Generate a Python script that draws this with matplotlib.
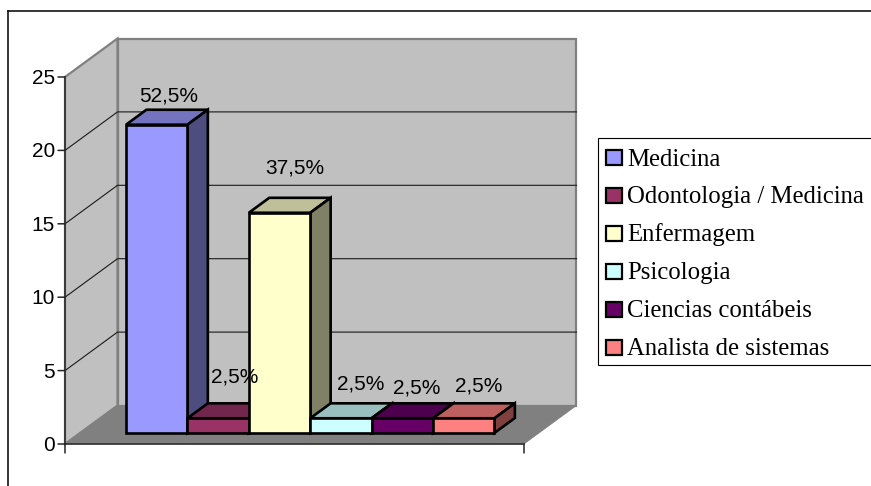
import matplotlib
matplotlib.use('Agg')
import matplotlib.pyplot as plt
from matplotlib.patches import Polygon, Rectangle

W, H = 871, 486

categories = ["Medicina", "Odontologia / Medicina", "Enfermagem", "Psicologia",
              "Ciencias contábeis", "Analista de sistemas"]
values = [21, 1, 15, 1, 1, 1]
percent_labels = ["52,5%", "2,5%", "37,5%", "2,5%", "2,5%", "2,5%"]
y_ticks = [0, 5, 10, 15, 20, 25]

front_colors = ["#9999FF", "#993366", "#FFFFCC", "#CCFFFF", "#660066", "#FF8080"]
top_colors = ["#7373BF", "#73264D", "#BFBF99", "#99BFBF", "#4D004D", "#BF6060"]
side_colors = ["#4D4D80", "#4D1A33", "#808066", "#668080", "#330033", "#804040"]

# label offset from the top-centre of each bar's front face, in pixels
label_offsets = [(12, 29), (17, 41), (15, 45), (20, 34), (14, 30), (15, 32)]

# geometry of the fake 3D box, in pixels
PLOT_L, PLOT_R, PLOT_B, PLOT_T = 65, 524, 444, 77
DEPTH_X, DEPTH_Y = 52.5, 38.5
BAR_W = 61.4
BAR0_X0 = 111.0
D_FRONT, D_BACK = 0.287, 0.675

fig = plt.figure(figsize=(W / 100, H / 100), dpi=100, facecolor="white")
ax = fig.add_axes([PLOT_L / W, 1 - PLOT_B / H, (PLOT_R - PLOT_L) / W, (PLOT_B - PLOT_T) / H])
ax.set_xlim((PLOT_L - BAR0_X0) / BAR_W, (PLOT_R - BAR0_X0) / BAR_W)
ax.set_ylim(0, y_ticks[-1])
ax.axis("off")

px_x = BAR_W
px_y = (PLOT_B - PLOT_T) / y_ticks[-1]
xmin, xmax = ax.get_xlim()


def proj(x, y, d):
    # x, y on the front plane, d = depth 0..1 into the box
    return (x + d * DEPTH_X / px_x, y + d * DEPTH_Y / px_y)


def poly(pts, face, edge, lw, z):
    ax.add_patch(Polygon(pts, closed=True, facecolor=face, edgecolor=edge, linewidth=lw,
                         joinstyle="miter", clip_on=False, zorder=z))


top = y_ticks[-1]
# walls and floor
poly([proj(xmin, 0, 0), proj(xmin, 0, 1), proj(xmax, 0, 1), proj(xmax, 0, 0)], "#808080", "#808080", 0.5, 1)
poly([proj(xmin, 0, 1), proj(xmin, top, 1), proj(xmax, top, 1), proj(xmax, 0, 1)], "#C0C0C0", "#808080", 1.6, 1)
poly([proj(xmin, 0, 0), proj(xmin, top, 0), proj(xmin, top, 1), proj(xmin, 0, 1)], "#C0C0C0", "#808080", 1.6, 1)

# gridlines
for t in y_ticks[1:-1]:
    a, b, c = proj(xmin, t, 0), proj(xmin, t, 1), proj(xmax, t, 1)
    ax.plot([a[0], b[0], c[0]], [a[1], b[1], c[1]], color="#1a1a1a", lw=0.8, clip_on=False, zorder=2)

# bars
for i, v in enumerate(values):
    x0, x1 = i, i + 1
    z = 3 + i * 0.1
    poly([proj(x0, v, D_FRONT), proj(x0, v, D_BACK), proj(x1, v, D_BACK), proj(x1, v, D_FRONT)],
         top_colors[i], "black", 1.9, z)
    poly([proj(x1, 0, D_FRONT), proj(x1, v, D_FRONT), proj(x1, v, D_BACK), proj(x1, 0, D_BACK)],
         side_colors[i], "black", 1.9, z)
    poly([proj(x0, 0, D_FRONT), proj(x0, v, D_FRONT), proj(x1, v, D_FRONT), proj(x1, 0, D_FRONT)],
         front_colors[i], "black", 1.9, z)

# axis lines and ticks
ax.plot([xmin, xmin], [0, top], color="#262626", lw=1.1, clip_on=False, zorder=6)
ax.plot([xmin, xmax], [0, 0], color="#262626", lw=1.1, clip_on=False, zorder=6)
for t in y_ticks:
    ax.annotate("", xy=(xmin, t), xytext=(-7, 0), textcoords="offset pixels",
                arrowprops=dict(arrowstyle="-", color="#262626", lw=1.1, shrinkA=0, shrinkB=0), zorder=6)
    ax.annotate(str(t), xy=(xmin, t), xytext=(-10, -1.5), textcoords="offset pixels", ha="right", va="center",
                fontsize=15, family="Liberation Sans", color="black", annotation_clip=False)
for xt in (xmin, xmax):
    ax.annotate("", xy=(xt, 0), xytext=(0, -9), textcoords="offset pixels",
                arrowprops=dict(arrowstyle="-", color="#262626", lw=1.1, shrinkA=0, shrinkB=0), zorder=6)

# percentage labels
for i, v in enumerate(values):
    dx, dy = label_offsets[i]
    x, y = proj(i + 0.5, v, D_FRONT)
    ax.annotate(percent_labels[i], xy=(x, y), xytext=(dx, dy), textcoords="offset pixels", ha="center",
                va="center", fontsize=15, family="Liberation Sans", color="black", zorder=8,
                annotation_clip=False)


def fx(p):
    return p / W


def fy(p):
    return 1 - p / H


# outer frame
fig.add_artist(plt.Line2D([fx(8), fx(8)], [fy(486), fy(11)], color="black", lw=1.1))
fig.add_artist(plt.Line2D([fx(8), fx(871)], [fy(11), fy(11)], color="black", lw=1.1))

# legend
fig.add_artist(Rectangle((fx(597.5), fy(364.5)), fx(274), 226.5 / H, facecolor="white", edgecolor="black", lw=0.8,
                         transform=fig.transFigure))
row_y = 157.5
row_h = 37.9
for i, name in enumerate(categories):
    cy = row_y + i * row_h
    fig.add_artist(Rectangle((fx(605.5), fy(cy + 7.5)), 16 / W, 15 / H, facecolor=front_colors[i],
                             edgecolor="black", lw=1.6, transform=fig.transFigure))
    fig.text(fx(627), fy(cy + 8), name, ha="left", va="baseline", fontsize=17.8, family="Liberation Serif",
             color="black")

fig.savefig("out.png", dpi=100)
